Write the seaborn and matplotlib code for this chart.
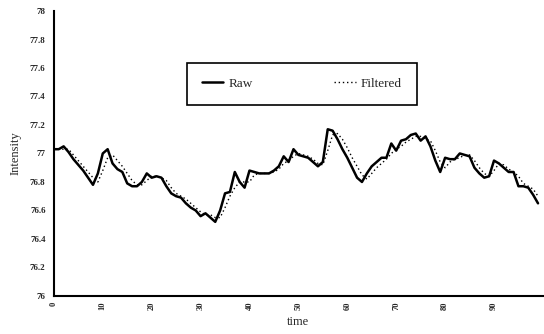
import numpy as np
import pandas as pd
import seaborn as sns
import matplotlib.pyplot as plt
from matplotlib.ticker import FuncFormatter

# values
time = list(range(100))
raw = [77.03, 77.03, 77.05, 77.01, 76.96, 76.92, 76.88, 76.83, 76.78, 76.86,
       77.00, 77.03, 76.93, 76.89, 76.87, 76.79, 76.77, 76.77, 76.80, 76.86,
       76.83, 76.84, 76.83, 76.77, 76.72, 76.70, 76.69, 76.65, 76.62, 76.60,
       76.56, 76.58, 76.55, 76.52, 76.60, 76.72, 76.73, 76.87, 76.80, 76.76,
       76.88, 76.87, 76.86, 76.86, 76.86, 76.88, 76.91, 76.98, 76.94, 77.03,
       76.99, 76.98, 76.97, 76.94, 76.91, 76.94, 77.17, 77.16, 77.10, 77.03,
       76.97, 76.90, 76.83, 76.80, 76.86, 76.91, 76.94, 76.97, 76.97, 77.07,
       77.02, 77.09, 77.10, 77.13, 77.14, 77.09, 77.12, 77.05, 76.95, 76.87,
       76.97, 76.96, 76.96, 77.00, 76.99, 76.98, 76.90, 76.86, 76.83, 76.84,
       76.95, 76.93, 76.90, 76.87, 76.87, 76.77, 76.77, 76.76, 76.71, 76.65]
filtered = [77.03, 77.03, 77.03, 77.03, 76.99, 76.95, 76.91, 76.87, 76.83, 76.80,
            76.88, 76.97, 76.99, 76.95, 76.91, 76.86, 76.81, 76.78, 76.78, 76.81,
            76.84, 76.84, 76.83, 76.81, 76.76, 76.72, 76.70, 76.68, 76.65, 76.62,
            76.59, 76.57, 76.57, 76.55, 76.55, 76.62, 76.70, 76.76, 76.80, 76.80,
            76.80, 76.85, 76.86, 76.86, 76.86, 76.87, 76.89, 76.93, 76.95, 76.98,
            77.00, 76.99, 76.98, 76.96, 76.93, 76.92, 77.02, 77.13, 77.14, 77.10,
            77.04, 76.97, 76.91, 76.85, 76.82, 76.86, 76.90, 76.93, 76.96, 77.00,
            77.03, 77.05, 77.08, 77.10, 77.12, 77.12, 77.10, 77.09, 77.02, 76.94,
            76.90, 76.94, 76.96, 76.97, 76.99, 76.99, 76.95, 76.90, 76.86, 76.84,
            76.88, 76.93, 76.92, 76.89, 76.87, 76.84, 76.79, 76.77, 76.75, 76.70]
x_ticks = [0, 10, 20, 30, 40, 50, 60, 70, 80, 90]
y_ticks = [76, 76.2, 76.4, 76.6, 76.8, 77, 77.2, 77.4, 77.6, 77.8, 78]

df = pd.DataFrame({"time": time, "Raw": raw, "Filtered": filtered})

sns.set_style("white")
plt.rcParams["font.family"] = ["Liberation Serif", "DejaVu Serif"]

fig = plt.figure(figsize=(5.44, 3.34), dpi=100)
ax = fig.add_axes([0.099, 0.114, 0.899, 0.853])

sns.lineplot(data=df, x="time", y="Raw", ax=ax, color="black", linewidth=1.8, label="Raw")
sns.lineplot(data=df, x="time", y="Filtered", ax=ax, color="black", linewidth=1.0,
             linestyle=(0, (1, 2)), label="Filtered")

ax.set_xlim(0, 100)
ax.set_ylim(76, 78)
ax.set_xticks(x_ticks)
ax.set_yticks(y_ticks)
ax.yaxis.set_major_formatter(FuncFormatter(lambda v, p: f"{v:g}"))
ax.tick_params(axis="x", direction="in", length=2, width=1, labelsize=6, rotation=90, pad=4)
ax.tick_params(axis="y", direction="in", length=2, width=1, labelsize=6.5, pad=6)
for lab in ax.get_yticklabels() + ax.get_xticklabels():
    lab.set_fontweight("bold")

for s in ["top", "right"]:
    ax.spines[s].set_visible(False)
for s in ["left", "bottom"]:
    ax.spines[s].set_linewidth(1.5)
    ax.spines[s].set_color("black")

ax.set_xlabel("time", fontsize=9, labelpad=4)
ax.set_ylabel("Intensity", fontsize=9, labelpad=6)

leg = ax.legend(loc="center", bbox_to_anchor=(0.507, 0.744), ncol=2, fontsize=9.5,
                frameon=True, fancybox=False, framealpha=1, handlelength=1.6,
                handletextpad=0.4, columnspacing=6.2, borderpad=1.15, borderaxespad=0)
leg.get_frame().set_edgecolor("black")
leg.get_frame().set_linewidth(1.2)

fig.savefig("out.png", dpi=100)
